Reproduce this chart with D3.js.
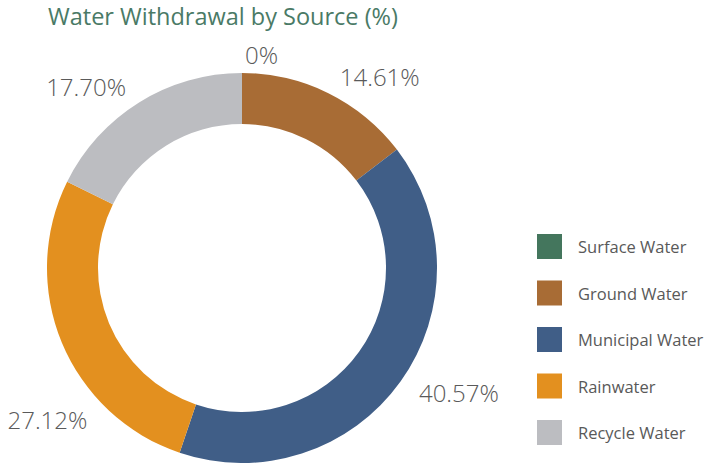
<!DOCTYPE html>
<html>
<head>
<meta charset="utf-8">
<script src="https://cdn.jsdelivr.net/npm/d3@7"></script>
<style>
  body { margin: 0; background: #fff; }
  #chart text { font-family: "Open Sans", "DejaVu Sans", sans-serif; }
</style>
</head>
<body>
<div id="chart"></div>
<script>
// chart data
var sources = ["Surface Water", "Ground Water", "Municipal Water", "Rainwater", "Recycle Water"];
var shares = [0, 14.61, 40.57, 27.12, 17.70];
var labels = ["0%", "14.61%", "40.57%", "27.12%", "17.70%"];
var colors = ["#44765d", "#a86c35", "#405e87", "#e3901f", "#bcbdc1"];

var width = 712,
    height = 465;
var cx = 242,
    cy = 268,
    outerR = 195,
    innerR = 144,
    labelR = 214;

var svg = d3.select("#chart")
    .append("svg")
    .attr("width", width)
    .attr("height", height);

// title
svg.append("text")
    .attr("x", 48)
    .attr("y", 25)
    .style("font-size", "23.5px")
    .style("fill", "#4a7a66")
    .text("Water Withdrawal by Source (%)");

var data = sources.map(function (s, i) {
    return { name: s, value: shares[i], label: labels[i], color: colors[i] };
});

var pie = d3.pie()
    .sort(null)
    .value(function (d) { return d.value; });

var arc = d3.arc()
    .innerRadius(innerR)
    .outerRadius(outerR);

var g = svg.append("g")
    .attr("transform", "translate(" + cx + "," + cy + ")");

var arcs = pie(data);

g.selectAll("path")
    .data(arcs)
    .enter()
    .append("path")
    .attr("d", arc)
    .style("fill", function (d) { return d.data.color; });

// labels outside the ring, slid back along the circle if they leave the page
function placeLabel(sel, a) {
    var s = Math.sin(a);
    sel.attr("x", labelR * s + (s < -1e-6 ? -3 : 3))
        .attr("y", -labelR * Math.cos(a))
        .attr("text-anchor", s < -1e-6 ? "end" : "start");
}

g.selectAll("text.lbl")
    .data(arcs)
    .enter()
    .append("text")
    .attr("class", "lbl")
    .attr("dominant-baseline", "central")
    .style("font-size", "24px")
    .style("font-weight", 300)
    .style("fill", "#5a5a5a")
    .text(function (d) { return d.data.label; })
    .each(function (d) {
        var el = d3.select(this);
        var a = (d.startAngle + d.endAngle) / 2;
        placeLabel(el, a);
        var guard = 0;
        while (cx + this.getBBox().x < 6 && guard < 200) {
            a += a > Math.PI ? -0.01 : 0.01;
            placeLabel(el, a);
            guard++;
        }
    });

// legend
var legend = svg.append("g")
    .attr("transform", "translate(537,234)");

var rows = legend.selectAll("g")
    .data(data)
    .enter()
    .append("g")
    .attr("transform", function (d, i) { return "translate(0," + (i * 46.5) + ")"; });

rows.append("rect")
    .attr("width", 25)
    .attr("height", 25)
    .style("fill", function (d) { return d.color; });

rows.append("text")
    .attr("x", 41)
    .attr("y", 12.5)
    .attr("dominant-baseline", "central")
    .style("font-size", "16.5px")
    .style("fill", "#595959")
    .text(function (d) { return d.name; });
</script>
</body>
</html>
